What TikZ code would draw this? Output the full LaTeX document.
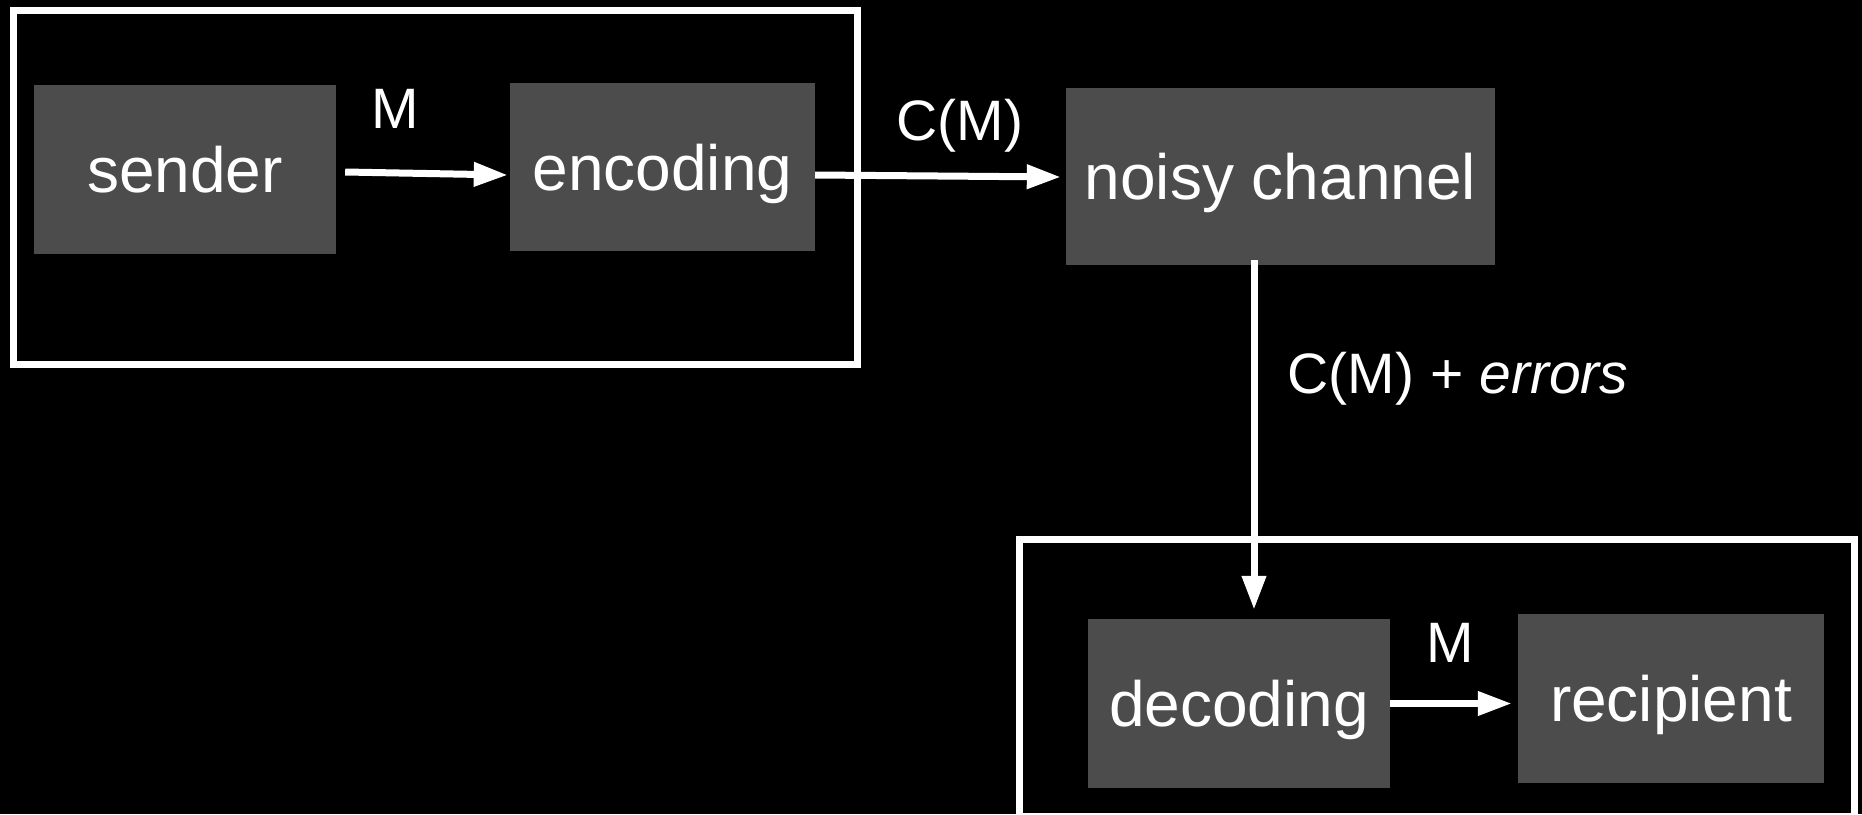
\documentclass[tikz,border=0pt]{standalone}
\usepackage{fontspec}
\setmainfont{Liberation Sans}
\usetikzlibrary{arrows.meta,calc}
\definecolor{boxgray}{RGB}{76,76,76}
\begin{document}
\begin{tikzpicture}[x=1pt,y=-1pt,
  stage/.style={fill=boxgray,draw=none,text=white,inner sep=0pt,text depth=0pt,
    font=\fontsize{64}{70}\selectfont},
  frame/.style={draw=white,line width=7pt},
  flow/.style={draw=white,line width=7pt,-{Triangle[length=34pt,width=23pt]}},
  lbl/.style={text=white,inner sep=0pt,anchor=base,font=\fontsize{57}{62}\selectfont}]
  % canvas
  \fill[black] (0,0) rectangle (1862,814);
  \useasboundingbox (0,0) rectangle (1862,814);

  % sender side and receiver side groups
  \draw[frame] (13.5,10.5) rectangle (857,364);
  \draw[frame] (1019,539.5) rectangle (1854.5,816.5);

  % processing stages
  \node[stage,minimum width=302pt,minimum height=169pt] (sender) at (185,169.5) {sender};
  \node[stage,minimum width=305pt,minimum height=168pt] (encoding) at (662.5,167) {encoding};
  \node[stage,minimum width=429pt,minimum height=177pt] (noisy) at (1280.5,176.5) {noisy channel};
  \node[stage,minimum width=302pt,minimum height=169pt] (decoding) at (1239,703.5) {decoding};
  \node[stage,minimum width=306pt,minimum height=169pt] (recipient) at (1671,698.5) {recipient};

  % connectors
  \draw[flow] ($(sender.east)+(9,2.5)$) -- ($(encoding.west)+(-2,8)$);
  \draw[flow] ($(encoding.east)+(0,8)$) -- ($(noisy.west)+(-5,0.5)$);
  \coordinate (drop) at (1254,0);
  \draw[flow] ($(noisy.south -| drop)+(0,-5)$) -- ($(decoding.north -| drop)+(0,-9)$);
  \draw[flow] (decoding.east) -- ($(recipient.west)+(-6,5)$);

  % message labels
  \node[lbl] (m1) at (395,128) {M};
  \node[lbl] (cm) at (960,140) {C(M)};
  \node[lbl] (cme) at (1458,393) {C(M) + \textit{errors}};
  \node[lbl] (m2) at (1450,662) {M};
\end{tikzpicture}
\end{document}
